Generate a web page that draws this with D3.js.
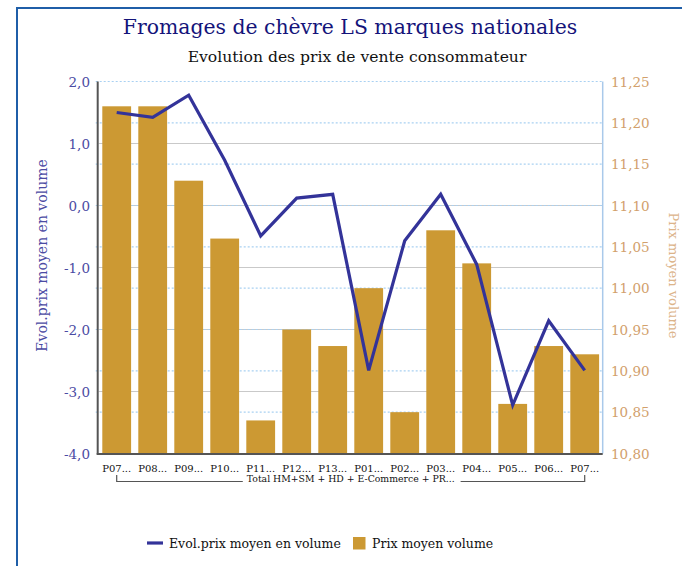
<!DOCTYPE html>
<html>
<head>
<meta charset="utf-8">
<script src="https://cdn.jsdelivr.net/npm/d3@7"></script>
<style>
  html, body { margin: 0; padding: 0; background: #fff; }
  svg { display: block; }
  text { font-family: "DejaVu Serif", "Liberation Serif", serif; }
</style>
</head>
<body>
<svg id="chart" width="682" height="566"></svg>
<script>
// Periods (4-week periods, two consecutive years)
const categories = ["P07...", "P08...", "P09...", "P10...", "P11...", "P12...", "P13...",
                    "P01...", "P02...", "P03...", "P04...", "P05...", "P06...", "P07..."];
// Prix moyen volume (€/kg) – bars, right axis
const prixMoyen = [11.22, 11.22, 11.13, 11.06, 10.84, 10.95, 10.93,
                   11.00, 10.85, 11.07, 11.03, 10.86, 10.93, 10.92];
// Evol. prix moyen en volume (%) – line, left axis
const evolPrix = [1.50, 1.42, 1.78, 0.73, -0.49, 0.12, 0.18,
                  -2.66, -0.57, 0.18, -0.95, -3.22, -1.86, -2.66];
const leftTicks = [2, 1, 0, -1, -2, -3, -4];
const rightTicks = [11.25, 11.20, 11.15, 11.10, 11.05, 11.00, 10.95, 10.90, 10.85, 10.80];
const groupLabel = "Total HM+SM + HD + E-Commerce + PR...";

const svg = d3.select("#chart");
const plot = { left: 98.7, right: 602.7, top: 81.5, bottom: 453.5 };

const x = d3.scaleBand()
  .domain(d3.range(categories.length))
  .range([plot.left, plot.right])
  .paddingInner(0.2)
  .paddingOuter(0.1);
const yL = d3.scaleLinear().domain([-4, 2]).range([plot.bottom, plot.top]);
const yR = d3.scaleLinear().domain([10.80, 11.25]).range([plot.bottom, plot.top]);

const fmtL = v => d3.format(".1f")(v).replace(".", ",").replace("−", "-");
const fmtR = v => d3.format(".2f")(v).replace(".", ",");

// outer frame
svg.append("path")
  .attr("d", `M17,566 L17,8 L682,8`)
  .attr("fill", "none")
  .attr("stroke", "#1f5ea8")
  .attr("stroke-width", 2);

// titles, sized to a fixed width
function fitText(sel, width) {
  const w = sel.node().getComputedTextLength();
  const fs = parseFloat(sel.attr("font-size"));
  sel.attr("font-size", fs * width / w);
}
const title = svg.append("text")
  .attr("x", 350).attr("y", 34)
  .attr("text-anchor", "middle")
  .attr("font-size", 22)
  .attr("fill", "#14147a")
  .text("Fromages de chèvre LS marques nationales");
fitText(title, 455);

const subtitle = svg.append("text")
  .attr("x", 357).attr("y", 62)
  .attr("text-anchor", "middle")
  .attr("font-size", 16)
  .attr("fill", "#111")
  .text("Evolution des prix de vente consommateur");
fitText(subtitle, 339);

// gridlines: solid for left axis ticks, dotted for right axis ticks
svg.append("g").selectAll("line")
  .data(leftTicks.filter(d => d !== 2 && d !== -4))
  .join("line")
  .attr("x1", plot.left).attr("x2", plot.right)
  .attr("y1", d => yL(d)).attr("y2", d => yL(d))
  .attr("stroke", "#c9c9c9").attr("stroke-width", 1.2);

svg.append("g").selectAll("line")
  .data(rightTicks.filter(d => d !== 10.80))
  .join("line")
  .attr("x1", plot.left - 3).attr("x2", plot.right)
  .attr("y1", d => yR(d)).attr("y2", d => yR(d))
  .attr("stroke", "#a9d1f2").attr("stroke-width", 1.2)
  .attr("stroke-dasharray", "2,2");

// bars
svg.append("g").selectAll("rect")
  .data(prixMoyen)
  .join("rect")
  .attr("x", (d, i) => x(i))
  .attr("width", x.bandwidth())
  .attr("y", d => yR(d))
  .attr("height", d => yR(10.80) - yR(d))
  .attr("fill", "#cc9933");

// axis lines
svg.append("line")
  .attr("x1", plot.right).attr("x2", plot.right)
  .attr("y1", plot.top).attr("y2", plot.bottom)
  .attr("stroke", "#a9c9ea").attr("stroke-width", 1.5);
svg.append("line")
  .attr("x1", plot.left - 1).attr("x2", plot.left - 1)
  .attr("y1", plot.top).attr("y2", plot.bottom + 1)
  .attr("stroke", "#555").attr("stroke-width", 2);
svg.append("line")
  .attr("x1", plot.left - 2).attr("x2", plot.right)
  .attr("y1", plot.bottom + 0.5).attr("y2", plot.bottom + 0.5)
  .attr("stroke", "#555").attr("stroke-width", 2);

// line series
svg.append("path")
  .datum(evolPrix)
  .attr("fill", "none")
  .attr("stroke", "#333399")
  .attr("stroke-width", 3.2)
  .attr("stroke-linejoin", "miter")
  .attr("d", d3.line()
    .x((d, i) => x(i) + x.bandwidth() / 2)
    .y(d => yL(d)));

// left axis labels
svg.append("g").selectAll("text")
  .data(leftTicks)
  .join("text")
  .attr("x", 90).attr("y", d => yL(d) + 5)
  .attr("text-anchor", "end")
  .attr("font-size", 13.5)
  .attr("fill", "#4b4ba3")
  .text(fmtL);

// right axis labels
svg.append("g").selectAll("text")
  .data(rightTicks)
  .join("text")
  .attr("x", 611).attr("y", d => yR(d) + 5)
  .attr("font-size", 13.5)
  .attr("fill", "#d2a06c")
  .text(fmtR);

// axis titles
svg.append("text")
  .attr("transform", `translate(47,${(plot.top + plot.bottom) / 2 - 12}) rotate(-90)`)
  .attr("text-anchor", "middle")
  .attr("font-size", 14)
  .attr("fill", "#4b4ba3")
  .text("Evol.prix moyen en volume");
svg.append("text")
  .attr("transform", `translate(669,${(plot.top + plot.bottom) / 2 + 8}) rotate(90)`)
  .attr("text-anchor", "middle")
  .attr("font-size", 13)
  .attr("fill", "#dcb48a")
  .text("Prix moyen volume");

// category labels
svg.append("g").selectAll("text")
  .data(categories)
  .join("text")
  .attr("x", (d, i) => x(i) + x.bandwidth() / 2)
  .attr("y", 471.5)
  .attr("text-anchor", "middle")
  .attr("font-size", 10)
  .attr("fill", "#111")
  .text(d => d);

// group label with bracket
const cx0 = x(0) + x.bandwidth() / 2;
const cx1 = x(categories.length - 1) + x.bandwidth() / 2;
const gmid = (cx0 + cx1) / 2;
const gl = svg.append("text")
  .attr("x", gmid).attr("y", 481.5)
  .attr("text-anchor", "middle")
  .attr("font-size", 10)
  .attr("fill", "#111")
  .text(groupLabel);
fitText(gl, 208);
const glw = gl.node().getComputedTextLength();
svg.append("path")
  .attr("d", `M${cx0},475 V481.5 H${gmid - glw / 2 - 4} M${gmid + glw / 2 + 6},481.5 H${cx1} V475`)
  .attr("fill", "none")
  .attr("stroke", "#555")
  .attr("stroke-width", 1.2);

// legend
const lg = svg.append("g");
lg.append("line")
  .attr("x1", 147).attr("x2", 163).attr("y1", 543).attr("y2", 543)
  .attr("stroke", "#333399").attr("stroke-width", 3.2);
lg.append("text")
  .attr("x", 169).attr("y", 547.5)
  .attr("font-size", 12.5).attr("fill", "#111")
  .text("Evol.prix moyen en volume");
lg.append("rect")
  .attr("x", 353).attr("y", 537).attr("width", 12.5).attr("height", 12.5)
  .attr("fill", "#cc9933");
lg.append("text")
  .attr("x", 372).attr("y", 547.5)
  .attr("font-size", 12.5).attr("fill", "#111")
  .text("Prix moyen volume");
</script>
</body>
</html>
